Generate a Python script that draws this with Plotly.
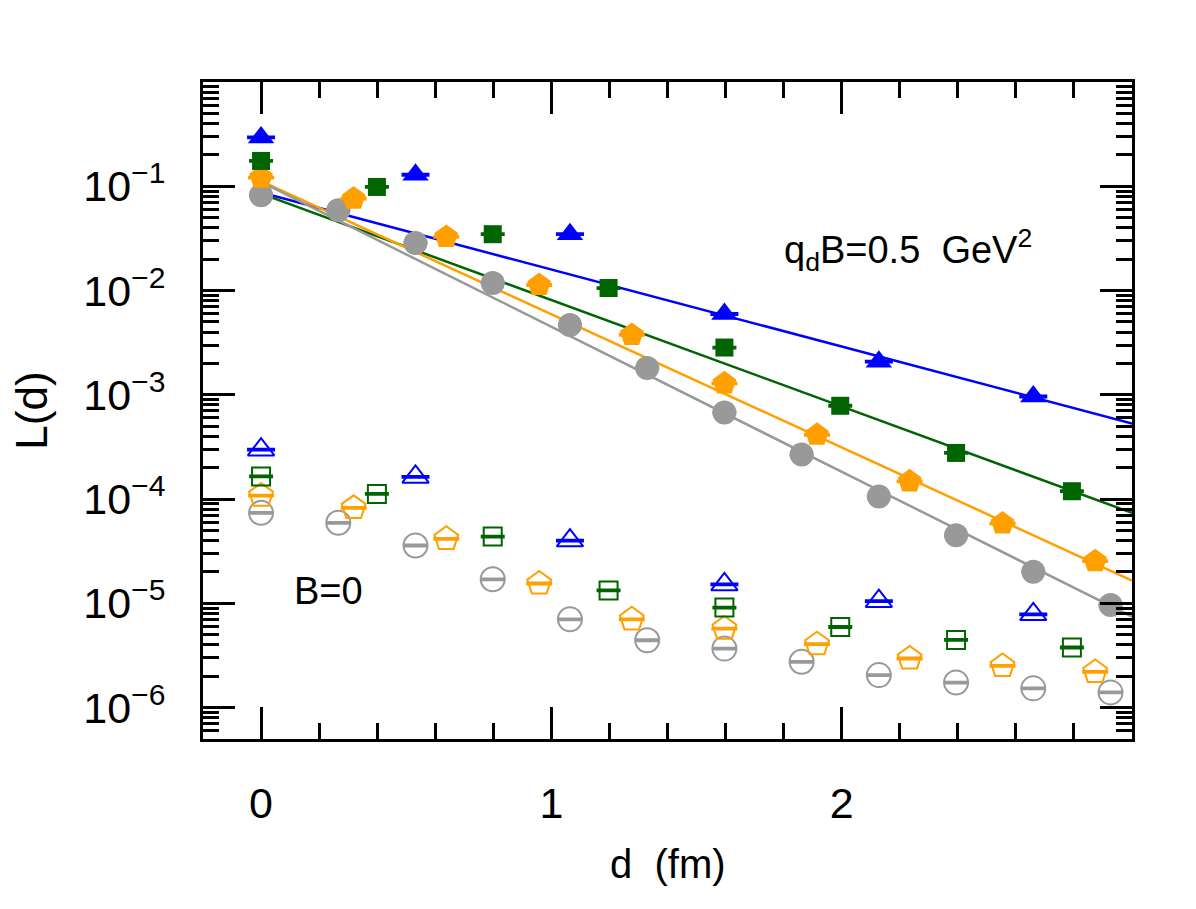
import numpy as np
import plotly.graph_objects as go

# ---------------- data ----------------
# distances d (fm) for each lattice series
d_gray = [0.0, 0.266, 0.532, 0.798, 1.064, 1.330, 1.596, 1.862, 2.128, 2.394, 2.660, 2.926]
d_orange = [0.0, 0.319, 0.638, 0.958, 1.277, 1.596, 1.915, 2.234, 2.554, 2.873]
d_green = [0.0, 0.399, 0.798, 1.197, 1.596, 1.995, 2.394, 2.793]
d_blue = [0.0, 0.532, 1.064, 1.596, 2.128, 2.660]

# L(d) at qdB = 0.5 GeV^2 (filled symbols)
L_gray_B = [0.082, 0.0589, 0.0286, 0.0118, 0.00468, 0.00181, 6.78e-4, 2.67e-4,
            1.06e-4, 4.5e-5, 2.01e-5, 9.64e-6]
L_orange_B = [0.121, 0.0763, 0.0327, 0.0113, 0.00375, 0.00129, 4.14e-4, 1.48e-4,
              5.83e-5, 2.54e-5]
L_green_B = [0.175, 0.0985, 0.0347, 0.01057, 0.00284, 7.85e-4, 2.77e-4, 1.19e-4]
L_blue_B = [0.294, 0.129, 0.0347, 0.00596, 0.00208, 9.64e-4]

# L(d) at B = 0 (open symbols)
L_gray_0 = [7.38e-5, 5.92e-5, 3.59e-5, 1.70e-5, 7.03e-6, 4.43e-6, 3.68e-6, 2.75e-6,
            2.05e-6, 1.74e-6, 1.53e-6, 1.40e-6]
L_orange_0 = [1.08e-4, 8.24e-5, 4.16e-5, 1.55e-5, 7.03e-6, 5.73e-6, 4.06e-6, 2.96e-6,
              2.51e-6, 2.20e-6]
L_green_0 = [1.65e-4, 1.12e-4, 4.37e-5, 1.33e-5, 9.1e-6, 5.93e-6, 4.46e-6, 3.77e-6]
L_blue_0 = [2.98e-4, 1.63e-4, 4.0e-5, 1.52e-5, 1.05e-5, 7.85e-6]

# exponential fits L = A exp(-m d) drawn through the B != 0 data
fit_names = ["blue", "green", "orange", "gray"]
fit_amp = [0.087, 0.085, 0.112, 0.110]
fit_mass = [1.70, 2.35, 2.94, 3.20]
fit_range = [0.0, 3.0]

x_tick_vals = [0, 1, 2]
x_tick_text = ["0", "1", "2"]
y_tick_vals = [1e-6, 1e-5, 1e-4, 1e-3, 1e-2, 1e-1, 1.0]
y_tick_text = ["10<sup>−6</sup>", "10<sup>−5</sup>", "10<sup>−4</sup>", "10<sup>−3</sup>",
               "10<sup>−2</sup>", "10<sup>−1</sup>", ""]

# ---------------- styling ----------------
colors = {"blue": "#0000FF", "green": "#006400", "orange": "#FFA000", "gray": "#999999"}
FONT = "Liberation Sans"

series = [
    # name, d, filled values, open values, symbol, size, cap half-width
    ("gray", d_gray, L_gray_B, L_gray_0, "circle", 24, 12),
    ("orange", d_orange, L_orange_B, L_orange_0, "pentagon", 25, 13),
    ("green", d_green, L_green_B, L_green_0, "square", 18, 12),
    ("blue", d_blue, L_blue_B, L_blue_0, "triangle-up", 23, 14),
]

fig = go.Figure()

# fit lines first (underneath the symbols)
for name, A, m in zip(fit_names, fit_amp, fit_mass):
    dd = np.linspace(fit_range[0], fit_range[1], 61)
    fig.add_trace(go.Scatter(
        x=dd, y=A * np.exp(-m * dd), mode="lines",
        line=dict(color=colors[name], width=2.5), showlegend=False, hoverinfo="skip"))

for name, d, vB, v0, sym, size, cap in series:
    c = colors[name]
    # B = 0 : open symbols
    fig.add_trace(go.Scatter(
        x=d, y=v0, mode="markers", showlegend=False,
        marker=dict(symbol=sym + "-open", size=size, color=c, line=dict(width=2, color=c)),
        error_y=dict(type="percent", value=2, width=cap, thickness=2, color=c)))
    # B != 0 : filled symbols
    fig.add_trace(go.Scatter(
        x=d, y=vB, mode="markers", showlegend=False,
        marker=dict(symbol=sym, size=size, color=c, line=dict(width=0)),
        error_y=dict(type="percent", value=2, width=cap, thickness=2, color=c)))

axis_common = dict(
    showline=True, linecolor="black", linewidth=3, mirror="allticks",
    ticks="inside", ticklen=32, tickwidth=3, tickcolor="black",
    showgrid=False, zeroline=False,
    tickfont=dict(family=FONT, size=43, color="black"),
)

minor_y = [k * 10.0 ** e for e in range(-7, 0) for k in range(2, 10)]
minor_y = [v for v in minor_y if 5e-7 <= v <= 1.0]

fig.update_xaxes(
    range=[-0.2, 3.0], tickmode="array", tickvals=x_tick_vals, ticktext=x_tick_text,
    minor=dict(dtick=0.2, tick0=0, ticks="inside", ticklen=16, tickwidth=2.5,
               tickcolor="black", showgrid=False),
    ticklabelstandoff=24,
    **axis_common)
fig.update_yaxes(
    type="log", range=[np.log10(5e-7), 0],
    tickmode="array", tickvals=y_tick_vals, ticktext=y_tick_text,
    minor=dict(tickmode="array", tickvals=minor_y, ticks="inside", ticklen=16,
               tickwidth=2.5, tickcolor="black", showgrid=False),
    ticklabelstandoff=26,
    **axis_common)

fig.add_annotation(text="q<sub>d</sub>B=0.5  GeV<sup>2</sup>", x=1.795, y=-1.611,
                   xref="x", yref="y", xanchor="left", yanchor="middle", showarrow=False,
                   font=dict(family=FONT, size=38, color="black"))
fig.add_annotation(text="B=0", x=0.107, y=-4.88, xref="x", yref="y",
                   xanchor="left", yanchor="middle", showarrow=False,
                   font=dict(family=FONT, size=38, color="black"))
# axis titles
fig.add_annotation(text="d  (fm)", x=0.5, y=-0.19, xref="paper", yref="paper",
                   xanchor="center", yanchor="middle", showarrow=False,
                   font=dict(family=FONT, size=40, color="black"))
fig.add_annotation(text="L(d)", x=-0.185, y=0.5, xref="paper", yref="paper",
                   xanchor="center", yanchor="middle", showarrow=False, textangle=-90,
                   font=dict(family=FONT, size=44, color="black"))

fig.update_layout(
    width=1196, height=909,
    margin=dict(l=203, r=64, t=82, b=170),
    paper_bgcolor="white", plot_bgcolor="white",
    font=dict(family=FONT, color="black"),
    showlegend=False,
)

fig.write_html("out.html")
